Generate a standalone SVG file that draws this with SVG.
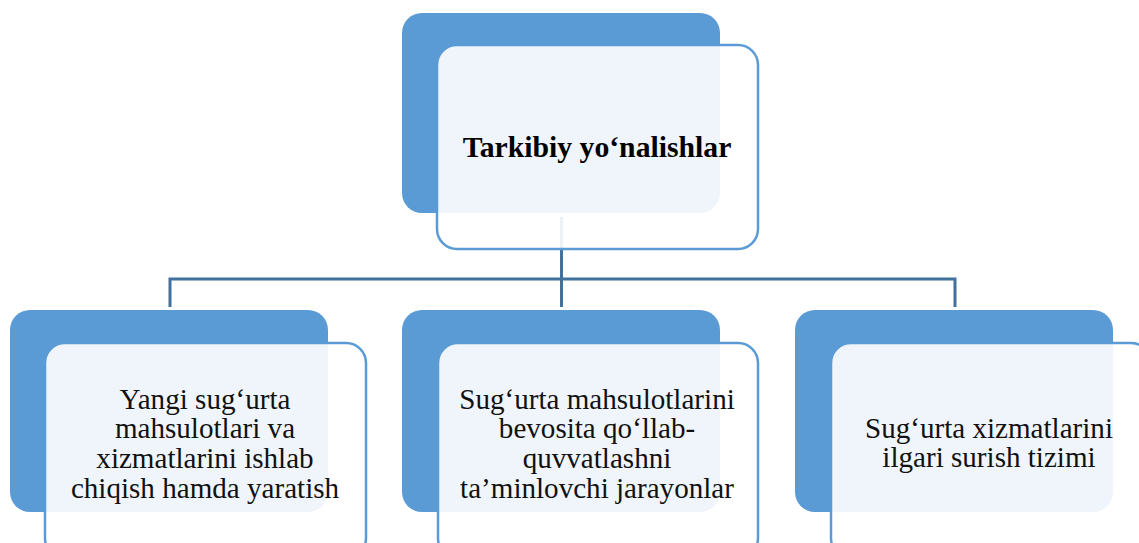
<svg xmlns="http://www.w3.org/2000/svg" width="1139" height="543" viewBox="0 0 1139 543">
  <style>
    .back { fill: #5B9BD5; }
    .front { fill: #FFFFFF; fill-opacity: 0.9; stroke: #5B9BD5; stroke-width: 2.5; }
    .conn { fill: none; stroke: #41719C; stroke-width: 3; }
  </style>
  <rect width="1139" height="543" fill="#FFFFFF"/>
  <g id="connectors">
    <path class="conn" d="M561.5,217 V307"/>
    <path class="conn" d="M170,307 V279 H955 V307"/>
  </g>
  <g id="node-top">
    <rect class="back" x="402" y="13" width="318" height="200" rx="20" ry="20"/>
    <rect class="front" x="437" y="45" width="321" height="204" rx="20" ry="20"/>
    <text x="597" y="157" font-family="Liberation Serif" font-size="29.7" font-weight="bold" fill="#000000" text-anchor="middle">Tarkibiy yo‘nalishlar</text>
  </g>
  <g id="node-left" font-family="Liberation Serif" font-size="29.1" fill="#111111" text-anchor="middle">
    <rect class="back" x="10" y="310" width="318" height="202" rx="20" ry="20"/>
    <rect class="front" x="45" y="343" width="321" height="215" rx="20" ry="20"/>
    <text x="205" y="409">Yangi sug‘urta</text>
    <text x="205" y="438">mahsulotlari va</text>
    <text x="205" y="468">xizmatlarini ishlab</text>
    <text x="205" y="498">chiqish hamda yaratish</text>
  </g>
  <g id="node-middle" font-family="Liberation Serif" font-size="29.1" fill="#111111" text-anchor="middle">
    <rect class="back" x="402" y="310" width="318" height="202" rx="20" ry="20"/>
    <rect class="front" x="438" y="343" width="320" height="215" rx="20" ry="20"/>
    <text x="597" y="409">Sug‘urta mahsulotlarini</text>
    <text x="597" y="438">bevosita qo‘llab-</text>
    <text x="597" y="468">quvvatlashni</text>
    <text x="597" y="498">ta’minlovchi jarayonlar</text>
  </g>
  <g id="node-right" font-family="Liberation Serif" font-size="29.1" fill="#111111" text-anchor="middle">
    <rect class="back" x="795" y="310" width="318" height="202" rx="20" ry="20"/>
    <rect class="front" x="831" y="343" width="320" height="215" rx="20" ry="20"/>
    <text x="989" y="438">Sug‘urta xizmatlarini</text>
    <text x="989" y="467">ilgari surish tizimi</text>
  </g>
</svg>
